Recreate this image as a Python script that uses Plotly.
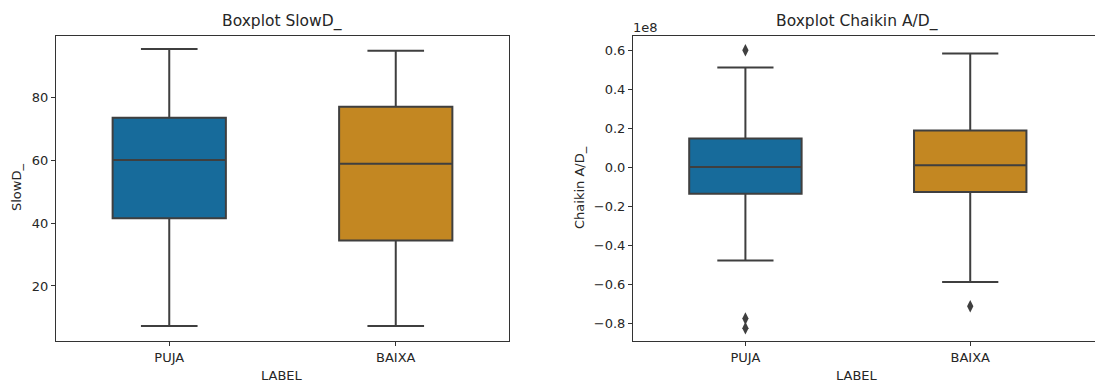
import plotly.graph_objects as go

categories = ["PUJA", "BAIXA"]

# SlowD_ stats
slowd_q1 = [41.5, 34.5]
slowd_median = [60.1, 58.9]
slowd_q3 = [73.5, 77.0]
slowd_low = [7.3, 7.3]
slowd_high = [95.4, 94.8]

# Chaikin A/D_ stats (units of 1e8)
chaikin_q1 = [-0.136, -0.127]
chaikin_median = [0.001, 0.01]
chaikin_q3 = [0.147, 0.188]
chaikin_low = [-0.479, -0.589]
chaikin_high = [0.511, 0.583]
chaikin_out_x = ["PUJA", "PUJA", "PUJA", "BAIXA"]
chaikin_out_y = [0.60, -0.777, -0.826, -0.714]

colors = ["#176b9b", "#c38722"]
edge = "#3f3f3f"
font_family = "DejaVu Sans"

fig = go.Figure()

for i, c in enumerate(categories):
    fig.add_trace(go.Box(
        x=[c], q1=[slowd_q1[i]], median=[slowd_median[i]], q3=[slowd_q3[i]],
        lowerfence=[slowd_low[i]], upperfence=[slowd_high[i]],
        fillcolor=colors[i], line=dict(color=edge, width=2),
        width=0.5, whiskerwidth=0.5, boxpoints=False,
        xaxis="x", yaxis="y", showlegend=False, hoverinfo="skip"))
    fig.add_trace(go.Box(
        x=[c], q1=[chaikin_q1[i] * 1e8], median=[chaikin_median[i] * 1e8], q3=[chaikin_q3[i] * 1e8],
        lowerfence=[chaikin_low[i] * 1e8], upperfence=[chaikin_high[i] * 1e8],
        fillcolor=colors[i], line=dict(color=edge, width=2),
        width=0.5, whiskerwidth=0.5, boxpoints=False,
        xaxis="x2", yaxis="y2", showlegend=False, hoverinfo="skip"))

fig.add_trace(go.Scatter(
    x=chaikin_out_x, y=[v * 1e8 for v in chaikin_out_y], mode="markers",
    marker=dict(symbol="diamond-tall", size=9, color=edge),
    xaxis="x2", yaxis="y2", showlegend=False, hoverinfo="skip"))

W, H = 1095, 383
def px(x):
    return x / W
def py(y):
    return 1 - y / H

axis_common = dict(showline=True, linecolor="#333333", linewidth=1,
                   ticks="outside", ticklen=4, tickcolor="#333333",
                   showgrid=False, zeroline=False,
                   tickfont=dict(family=font_family, size=13, color="#262626"))

fig.update_layout(
    width=W, height=H,
    margin=dict(l=0, r=0, t=0, b=0),
    paper_bgcolor="white", plot_bgcolor="white",
    boxmode="overlay",
    font=dict(family=font_family, color="#262626"),
    xaxis=dict(domain=[px(56), px(509)], anchor="y", type="category",
               categoryorder="array", categoryarray=categories,
               range=[-0.5, 1.5], mirror=True, **axis_common),
    yaxis=dict(domain=[py(341), py(36)], anchor="x", range=[2.5, 99.5],
               tickvals=[20, 40, 60, 80], mirror=True, **axis_common),
    xaxis2=dict(domain=[px(633), 1.0], anchor="y2", type="category",
                categoryorder="array", categoryarray=categories,
                range=[-0.5, 1.555], mirror=True, **axis_common),
    yaxis2=dict(domain=[py(341), py(36)], anchor="x2", range=[-0.892e8, 0.673e8],
                tickvals=[v * 1e8 for v in [-0.8, -0.6, -0.4, -0.2, 0.0, 0.2, 0.4, 0.6]],
                ticktext=["\u22120.8", "\u22120.6", "\u22120.4", "\u22120.2", "0.0", "0.2", "0.4", "0.6"],
                mirror=False, **axis_common),
)

ann = [
    dict(text="Boxplot SlowD_", x=px(282), y=py(22), size=15.5, angle=0),
    dict(text="Boxplot Chaikin A/D_", x=px(857), y=py(22), size=15.5, angle=0),
    dict(text="LABEL", x=px(282), y=py(375), size=13, angle=0),
    dict(text="LABEL", x=px(857), y=py(375), size=13, angle=0),
    dict(text="SlowD_", x=px(16), y=py(188), size=13, angle=-90),
    dict(text="Chaikin A/D_", x=px(579), y=py(188), size=13, angle=-90),
    dict(text="1e8", x=px(645), y=py(27), size=13, angle=0),
]
for a in ann:
    fig.add_annotation(text=a["text"], x=a["x"], y=a["y"], xref="paper", yref="paper",
                       showarrow=False, textangle=a["angle"],
                       font=dict(family=font_family, size=a["size"], color="#262626"),
                       xanchor="center", yanchor="middle")

fig.write_html("out.html", config={"displayModeBar": False},
               post_script="document.body.style.margin='0';document.body.style.overflow='hidden';")
